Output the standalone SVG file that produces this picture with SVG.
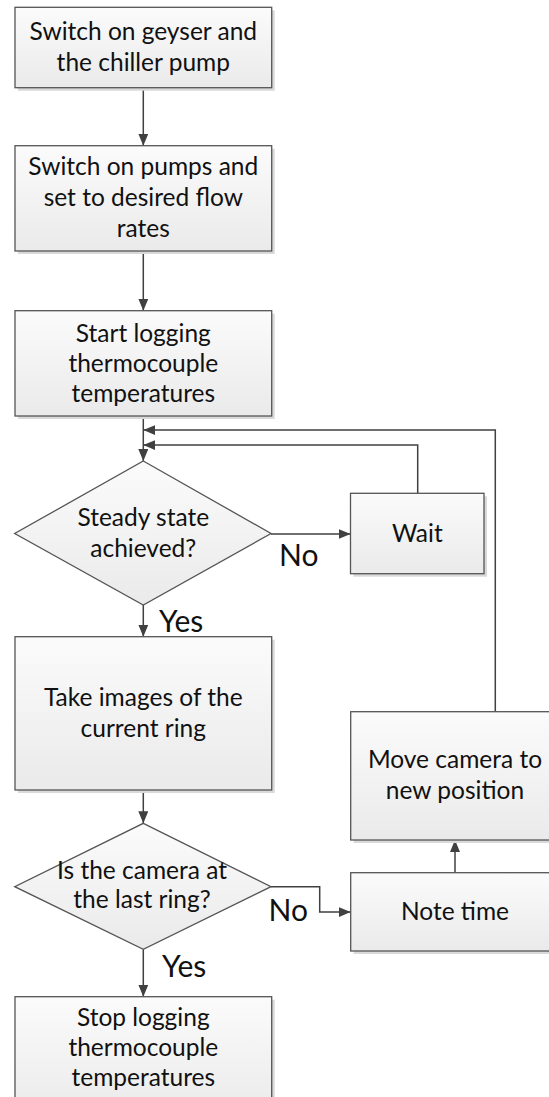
<svg xmlns="http://www.w3.org/2000/svg" width="549" height="1097" viewBox="0 0 549 1097">
  <defs>
    <linearGradient id="boxFill" x1="0" y1="0" x2="0" y2="1">
      <stop offset="0" stop-color="#fbfbfb"/>
      <stop offset="1" stop-color="#eaeaea"/>
    </linearGradient>
    <marker id="arrow" viewBox="0 0 12 10" refX="12" refY="5" markerWidth="12" markerHeight="10" markerUnits="userSpaceOnUse" orient="auto">
      <path d="M0,0 L12,5 L0,10 Z" fill="#404040"/>
    </marker>
  </defs>
  <style>
    .shadow { fill: #d9d9d9; }
    .box { fill: url(#boxFill); stroke: #555555; stroke-width: 1.3; }
    .txt { font-family: Lato, "Liberation Sans", sans-serif; font-size: 24.5px; fill: #111111; text-anchor: middle; }
    .lbl { font-family: Lato, "Liberation Sans", sans-serif; font-size: 30px; fill: #111111; }
    .conn { fill: none; stroke: #404040; stroke-width: 1.5; marker-end: url(#arrow); }
  </style>
  <rect width="549" height="1097" fill="#ffffff"/>

  <!-- connectors -->
  <g id="connectors">
    <path class="conn" d="M143.3,87.7 V145.7"/>
    <path class="conn" d="M143.3,251 V310.7"/>
    <path class="conn" d="M143.3,416 V461"/>
    <path class="conn" d="M495.3,711.7 V430 H143.3"/>
    <path class="conn" d="M417.7,493.3 V445 H143.3"/>
    <path class="conn" d="M271,534 H350.5"/>
    <path class="conn" d="M143.3,605 V636.7"/>
    <path class="conn" d="M143.3,790 V823.3"/>
    <path class="conn" d="M271,886.7 H319.7 V912 H350.7"/>
    <path class="conn" d="M455,872.7 V840"/>
    <path class="conn" d="M143.3,949.3 V996.7"/>
    <text class="lbl" x="279" y="565.7">No</text>
    <text class="lbl" x="159" y="631.7">Yes</text>
    <text class="lbl" x="268.5" y="920.7">No</text>
    <text class="lbl" x="162" y="977.3">Yes</text>
  </g>

  <g id="start">
    <rect class="shadow" x="18" y="10.3" width="256.7" height="80.4"/>
    <rect class="box" x="15" y="7.3" width="256.7" height="80.4"/>
    <text class="txt" x="143.3" y="40">Switch on geyser and</text>
    <text class="txt" x="143.3" y="71">the chiller pump</text>
  </g>

  <g id="pumps">
    <rect class="shadow" x="18" y="148.7" width="256.7" height="105.3"/>
    <rect class="box" x="15" y="145.7" width="256.7" height="105.3"/>
    <text class="txt" x="143.3" y="175">Switch on pumps and</text>
    <text class="txt" x="143.3" y="206">set to desired flow</text>
    <text class="txt" x="143.3" y="236.7">rates</text>
  </g>

  <g id="start-logging">
    <rect class="shadow" x="18" y="313.7" width="256.7" height="105.3"/>
    <rect class="box" x="15" y="310.7" width="256.7" height="105.3"/>
    <text class="txt" x="143.3" y="341.7">Start logging</text>
    <text class="txt" x="143.3" y="371.7">thermocouple</text>
    <text class="txt" x="143.3" y="401.7">temperatures</text>
  </g>

  <g id="steady-state">
    <polygon class="box" points="143.3,461 271,533.5 143.3,605 14.7,533.5"/>
    <text class="txt" x="143.3" y="526">Steady state</text>
    <text class="txt" x="143.3" y="556.7">achieved?</text>
  </g>

  <g id="wait">
    <rect class="shadow" x="353.5" y="496.3" width="133.5" height="80.4"/>
    <rect class="box" x="350.5" y="493.3" width="133.5" height="80.4"/>
    <text class="txt" x="417.3" y="541.7">Wait</text>
  </g>

  <g id="take-images">
    <rect class="shadow" x="18" y="639.7" width="256.7" height="153.3"/>
    <rect class="box" x="15" y="636.7" width="256.7" height="153.3"/>
    <text class="txt" x="143.3" y="706">Take images of the</text>
    <text class="txt" x="143.3" y="737">current ring</text>
  </g>

  <g id="last-ring">
    <polygon class="box" points="143.3,823.3 271,886.7 143.3,949.3 14.7,886.7"/>
    <text class="txt" x="142" y="879">Is the camera at</text>
    <text class="txt" x="142" y="908.3">the last ring?</text>
  </g>

  <g id="move-camera">
    <rect class="shadow" x="353.7" y="714.7" width="208.6" height="128.3"/>
    <rect class="box" x="350.7" y="711.7" width="208.6" height="128.3"/>
    <text class="txt" x="455" y="768">Move camera to</text>
    <text class="txt" x="455" y="799">new position</text>
  </g>

  <g id="note-time">
    <rect class="shadow" x="353.7" y="875.7" width="208.6" height="78.3"/>
    <rect class="box" x="350.7" y="872.7" width="208.6" height="78.3"/>
    <text class="txt" x="455" y="920">Note time</text>
  </g>

  <g id="stop-logging">
    <rect class="shadow" x="18" y="999.7" width="256.7" height="120"/>
    <rect class="box" x="15" y="996.7" width="256.7" height="120"/>
    <text class="txt" x="143.3" y="1025.5">Stop logging</text>
    <text class="txt" x="143.3" y="1055.5">thermocouple</text>
    <text class="txt" x="143.3" y="1086">temperatures</text>
  </g>
</svg>
